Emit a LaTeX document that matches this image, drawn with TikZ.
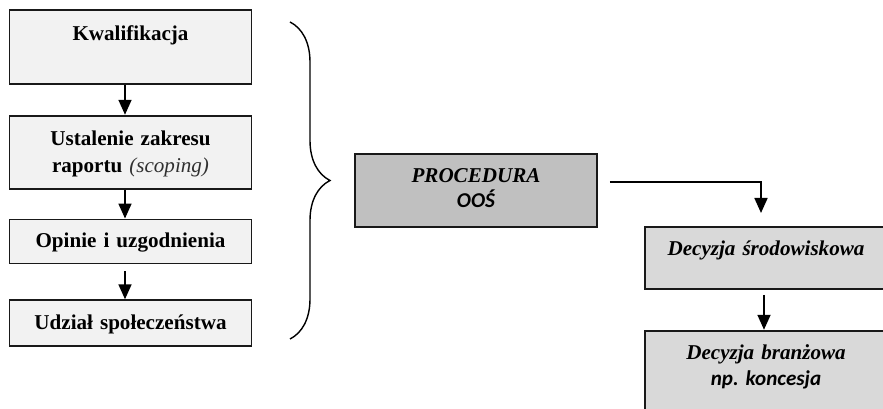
\documentclass[tikz,border=0pt]{standalone}
\usepackage{fontspec}
\setmainfont{Liberation Serif}
\newfontfamily\calibri{Carlito}
\usetikzlibrary{positioning, arrows.meta, decorations.pathreplacing}
\definecolor{lightfill}{HTML}{F2F2F2}
\definecolor{midfill}{HTML}{D9D9D9}
\definecolor{darkfill}{HTML}{C0C0C0}
\definecolor{scopegray}{HTML}{303030}

\begin{document}
\begin{tikzpicture}[>={Triangle[width=0.26cm,length=0.3cm]}, line width=1pt,
        base box/.style={draw=black!90, text width=4.5cm, align=center, inner xsep=0.17cm, inner ysep=0pt},
        light box/.style={base box, fill=lightfill, font=\fontsize{12}{15.3}\selectfont\bfseries},
        dark box/.style={base box, fill=darkfill, font=\fontsize{12}{14.5}\selectfont\bfseries\itshape},
        mid box/.style={base box, fill=midfill, font=\fontsize{12}{14.5}\selectfont\bfseries\itshape}]
        \useasboundingbox (0,0) rectangle (17.66,-8.18);
        \clip (0,0) rectangle (17.66,-8.18);

        % etapy procedury
        \node[light box, anchor=north, text height=0.62cm, text depth=0.86cm] (kwal) at (2.61,-0.18) {Kwalifikacja};
        \node[light box, text height=0.6cm, text depth=0.86cm, below=0.6cm of kwal] (zakres) {Ustalenie zakresu\\raportu {\mdseries\itshape\color{scopegray}(scoping)}};
        \node[light box, text height=0.56cm, text depth=0.32cm, below=0.58cm of zakres] (opinie) {Opinie i uzgodnienia};
        \node[light box, text height=0.58cm, text depth=0.34cm, below=0.7cm of opinie] (udzial) {Udział społeczeństwa};

        % procedura i decyzje
        \node[dark box, anchor=north, text height=0.57cm, text depth=0.9cm] (oos) at (9.52,-3.06) {PROCEDURA\\{\calibri OOŚ}};
        \node[mid box, anchor=north, text height=0.58cm, text depth=0.66cm] (dsr) at (15.32,-4.52) {Decyzja środowiskowa};
        \node[mid box, text height=0.58cm, text depth=1.8cm, below=0.8cm of dsr] (dbr) {Decyzja branżowa\\{\calibri np.\ koncesja}};

        \coordinate (btop) at (5.8,-0.44);
        \coordinate (bbot) at (5.8,-6.78);
        \draw[decorate, decoration={brace, amplitude=0.8cm}, line width=0.8pt] (btop) -- (bbot);

        \path[->]
        ([xshift=-0.11cm]kwal.south) edge ([xshift=-0.11cm]zakres.north)
        ([xshift=-0.11cm]zakres.south) edge ([xshift=-0.11cm]opinie.north)
        ([xshift=-0.11cm]opinie.south) edge[shorten <=0.14cm] ([xshift=-0.11cm]udzial.north)
        ([xshift=-0.04cm]dsr.south) edge[shorten <=0.1cm] ([xshift=-0.04cm]dbr.north);
        \draw[->, shorten <=0.24cm, shorten >=0.26cm] ([yshift=0.17cm]oos.east) -| ([xshift=-0.1cm]dsr.north);
    \end{tikzpicture}
\end{document}
